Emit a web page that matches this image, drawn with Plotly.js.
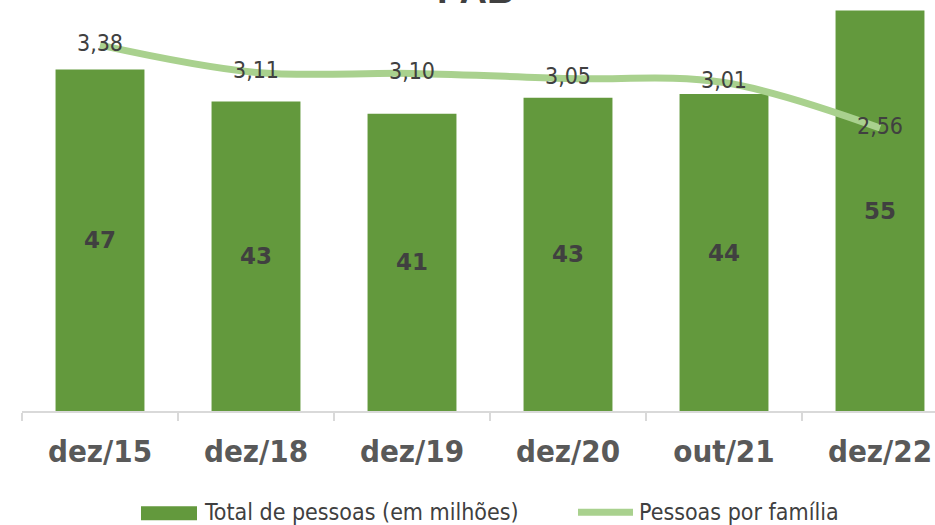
<!DOCTYPE html>
<html><head><meta charset="utf-8">
<script src="https://cdn.plot.ly/plotly-3.0.1.min.js"></script>
<style>html,body{margin:0;padding:0;overflow:hidden;background:#fff;width:935px;height:525px;}
#chart{position:absolute;left:0;top:-60px;width:958px;height:585px;}</style>
</head><body>
<div id="chart"></div>
<script>
const categories = ['dez/15','dez/18','dez/19','dez/20','out/21','dez/22'];
const totalPessoas = [47.0, 42.6, 40.9, 43.1, 43.6, 55.1];
const pessoasPorFamilia = [3.38, 3.11, 3.10, 3.05, 3.01, 2.56];
const seriesNames = ['Total de pessoas (em milhões)', 'Pessoas por família'];
const titleText = 'PAB';

const barColor = '#63993d';
const lineColor = '#a9d18e';
const narrow = 'DejaVu Sans Condensed, Liberation Sans Narrow, Liberation Sans, sans-serif';

const traces = [
  {type:'bar', x:categories, y:totalPessoas, name:seriesNames[0],
   marker:{color:barColor}, texttemplate:'%{y:.0f}', textposition:'inside',
   insidetextanchor:'middle', textangle:0,
   textfont:{family:'DejaVu Sans, sans-serif', size:23, color:'#404040', weight:'bold'},
   hoverinfo:'skip', cliponaxis:false},
  {type:'scatter', mode:'lines+text', x:categories, y:pessoasPorFamilia, yaxis:'y2',
   name:seriesNames[1], line:{color:lineColor, width:7, shape:'spline', smoothing:1},
   texttemplate:'%{y:.2f}', textposition:'middle center',
   textfont:{family:narrow, size:23, color:'#404040'},
   hoverinfo:'skip', cliponaxis:false}
];

const px = v => (v-22)/936;
const py = v => (411.5 - v)/407.7;

const layout = {
  width:958, height:585,
  margin:{l:22, r:0, t:63.8, b:113.5},
  paper_bgcolor:'#fff', plot_bgcolor:'#fff',
  separators:',.',
  showlegend:false,
  bargap:0.43,
  xaxis:{type:'category', showline:true, linecolor:'#d9d9d9', linewidth:1.5,
    ticks:'outside', tickson:'boundaries', ticklen:8, tickcolor:'#d9d9d9', tickwidth:1.5,
    showgrid:false, zeroline:false, ticklabelstandoff:12,
    tickfont:{family:narrow, size:31, color:'#595959', weight:'bold'}},
  yaxis:{range:[0,56], visible:false, fixedrange:true},
  yaxis2:{range:[-0.24,3.787], overlaying:'y', side:'right', visible:false},
  shapes:[
    {type:'rect', xref:'paper', yref:'paper', x0:px(141), x1:px(197), y0:py(507), y1:py(521),
     fillcolor:barColor, line:{width:0}},
    {type:'line', xref:'paper', yref:'paper', x0:px(578), x1:px(633), y0:py(513), y1:py(513),
     line:{color:lineColor, width:7}}
  ],
  annotations:[
    {xref:'paper', yref:'paper', x:px(202), y:py(513), xanchor:'left', yanchor:'middle',
     text:seriesNames[0], showarrow:false, font:{family:narrow, size:23, color:'#404040'}},
    {xref:'paper', yref:'paper', x:px(637), y:py(513), xanchor:'left', yanchor:'middle',
     text:seriesNames[1], showarrow:false, font:{family:narrow, size:23, color:'#404040'}},
    {xref:'paper', yref:'paper', x:px(475), y:py(13), xanchor:'center', yanchor:'bottom',
     text:titleText, showarrow:false, font:{family:'Liberation Sans, sans-serif', size:38, color:'#404040', weight:'bold'}}
  ]
};

Plotly.newPlot('chart', traces, layout, {staticPlot:true, displayModeBar:false});
</script>
</body></html>
